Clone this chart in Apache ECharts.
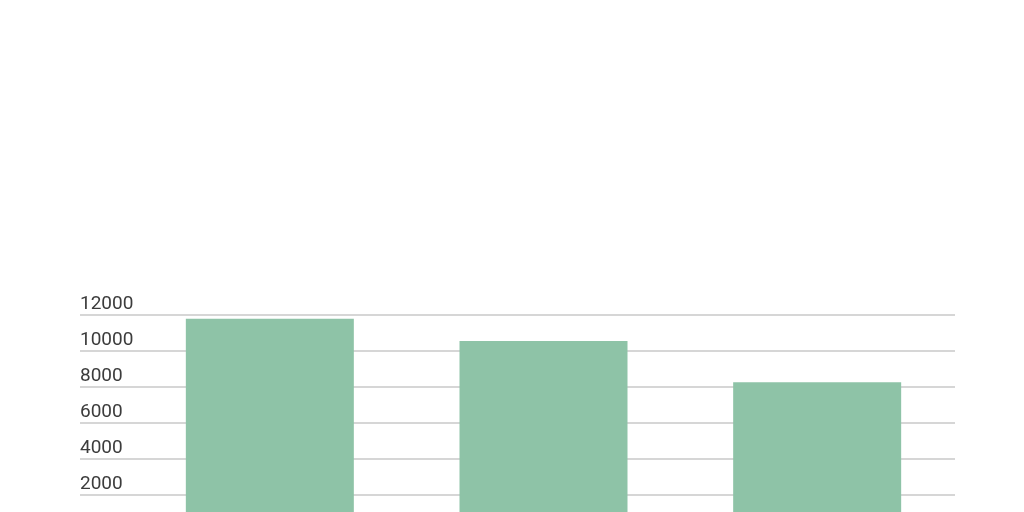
<!DOCTYPE html>
<html>
<head>
<meta charset="utf-8">
<script src="https://cdn.jsdelivr.net/npm/echarts@6/dist/echarts.min.js"></script>
<style>
  html, body { margin: 0; padding: 0; background: #fff; overflow: hidden; }
  #main { width: 1024px; height: 560px; }
</style>
</head>
<body>
<div id="main"></div>
<script>
var categories = ['Category 1', 'Category 2', 'Category 3'];
var values = [11790, 10560, 8270];
var yTicks = { min: 0, max: 12000, interval: 2000 };

var chartDom = document.getElementById('main');
var myChart = echarts.init(chartDom);
var option = {
    animation: false,
    grid: [
        // gridlines + labels, full width
        { left: 80, right: 69, top: 315, height: 216 },
        // bars
        { left: 133, right: 70, top: 315, height: 216 }
    ],
    xAxis: [
        { type: 'category', gridIndex: 0, data: categories, show: false },
        { type: 'category', gridIndex: 1, data: categories, show: false }
    ],
    yAxis: [
        {
            type: 'value',
            gridIndex: 0,
            min: yTicks.min,
            max: yTicks.max,
            interval: yTicks.interval,
            axisLine: { show: false },
            axisTick: { show: false },
            axisLabel: {
                inside: true,
                margin: 0,
                verticalAlign: 'bottom',
                padding: [0, 0, 1, 0],
                color: '#3c3c3c',
                fontFamily: 'Roboto',
                fontSize: 19,
                formatter: function (v) { return String(v); }
            },
            splitLine: { lineStyle: { color: '#c8c8c8', width: 1.5 } }
        },
        {
            type: 'value',
            gridIndex: 1,
            min: yTicks.min,
            max: yTicks.max,
            interval: yTicks.interval,
            show: false,
            splitLine: { show: false }
        }
    ],
    series: [
        {
            type: 'bar',
            xAxisIndex: 1,
            yAxisIndex: 1,
            data: values,
            barWidth: 168,
            itemStyle: { color: '#8ec3a7' }
        }
    ]
};
myChart.setOption(option);
</script>
</body>
</html>
